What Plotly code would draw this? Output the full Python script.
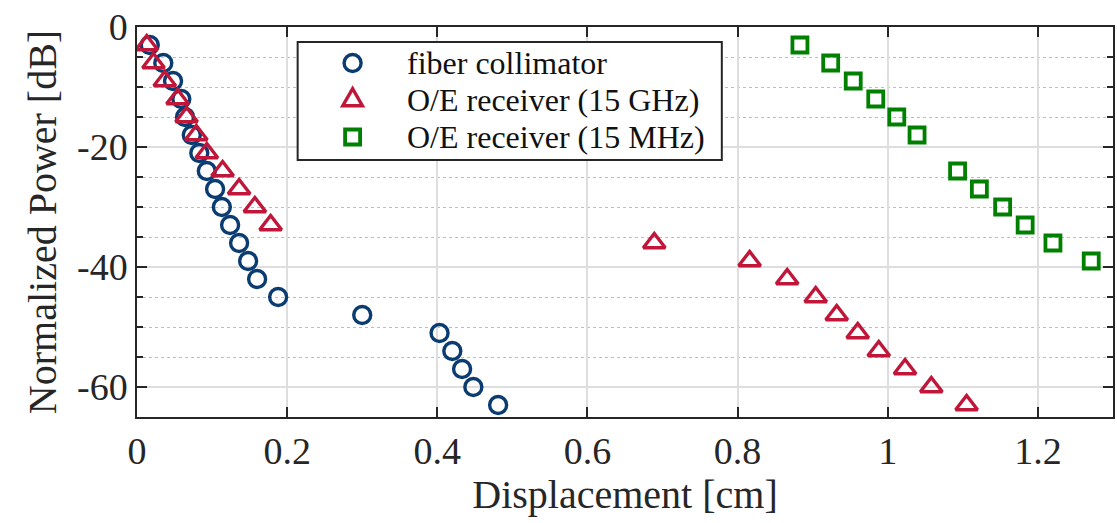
import plotly.graph_objects as go

# Normalized received power versus lateral displacement
fiber_x = [0.017, 0.035, 0.048, 0.059, 0.064, 0.073, 0.083, 0.093, 0.104, 0.113, 0.124,
           0.136, 0.148, 0.160, 0.188, 0.300, 0.403, 0.420, 0.433, 0.448, 0.481]
fiber_y = [-3, -6, -9, -12, -15, -18, -21, -24, -27, -30, -33,
           -36, -39, -42, -45, -48, -51, -54, -57, -60, -63]

ghz_x = [0.013, 0.022, 0.037, 0.054, 0.066, 0.079, 0.093, 0.114, 0.136, 0.157, 0.178,
         0.689, 0.816, 0.866, 0.904, 0.932, 0.960, 0.988, 1.023, 1.058, 1.105]
ghz_y = [-3, -6, -9, -12, -15, -18, -21, -24, -27, -30, -33,
         -36, -39, -42, -45, -48, -51, -54, -57, -60, -63]

mhz_x = [0.883, 0.924, 0.954, 0.984, 1.012, 1.039, 1.093, 1.122, 1.153, 1.183, 1.220, 1.271]
mhz_y = [-3, -6, -9, -12, -15, -18, -24, -27, -30, -33, -36, -39]

series_names = ["fiber collimator", "O/E receiver (15 GHz)", "O/E receiver (15 MHz)"]

x_ticks = [0, 0.2, 0.4, 0.6, 0.8, 1.0, 1.2]
x_tick_labels = ["0", "0.2", "0.4", "0.6", "0.8", "1", "1.2"]
y_ticks = [0, -20, -40, -60]
y_tick_labels = ["0", "-20", "-40", "-60"]

FONT = "Liberation Serif"
BLUE = "#0b3c71"
RED = "#c0163a"
GREEN = "#008000"
AXIS = "#262626"
LW = 3.4

fig = go.Figure()
fig.add_trace(go.Scatter(
    x=fiber_x, y=fiber_y, mode="markers", name=series_names[0], showlegend=False,
    marker=dict(symbol="circle-open", size=17, color=BLUE, line=dict(width=LW, color=BLUE)),
))
fig.add_trace(go.Scatter(
    x=ghz_x, y=ghz_y, mode="markers", name=series_names[1], showlegend=False,
    marker=dict(symbol="triangle-up-open", size=19, color=RED, line=dict(width=LW, color=RED)),
))
fig.add_trace(go.Scatter(
    x=mhz_x, y=mhz_y, mode="markers", name=series_names[2], showlegend=False,
    marker=dict(symbol="square-open", size=15, color=GREEN, line=dict(width=3.8, color=GREEN)),
))

# --- legend box drawn in plot-fraction coordinates ---
box = dict(x0=0.1646, x1=0.5992, y0=0.6590, y1=0.9615)
sym_x = 0.2209
text_x = 0.2751
row_y = [0.9077, 0.8128, 0.7179]

shapes = [dict(type="rect", xref="paper", yref="paper", layer="above",
               x0=box["x0"], x1=box["x1"], y0=box["y0"], y1=box["y1"],
               fillcolor="white", line=dict(color=AXIS, width=2))]
sym_common = dict(xref="paper", yref="paper", xsizemode="pixel", ysizemode="pixel",
                  xanchor=sym_x, layer="above")
shapes.append(dict(sym_common, type="circle", yanchor=row_y[0],
                   x0=-8.5, x1=8.5, y0=-8.5, y1=8.5, line=dict(color=BLUE, width=LW)))
shapes.append(dict(sym_common, type="path", yanchor=row_y[1],
                   path="M -9.8,-5.7 L 9.8,-5.7 L 0,11.3 Z", line=dict(color=RED, width=LW)))
shapes.append(dict(sym_common, type="rect", yanchor=row_y[2],
                   x0=-7.5, x1=7.5, y0=-7.5, y1=7.5, line=dict(color=GREEN, width=3.8)))

annotations = [dict(xref="paper", yref="paper", x=text_x, y=yy, text=name,
                    xanchor="left", yanchor="middle", showarrow=False,
                    font=dict(family=FONT, size=32, color="#111111"))
               for name, yy in zip(series_names, row_y)]

common_axis = dict(
    showline=True, linecolor=AXIS, linewidth=1.5, mirror="ticks",
    ticks="inside", ticklen=10, tickwidth=1.5, tickcolor=AXIS,
    showgrid=True, gridcolor="#dedede", gridwidth=1.5,
    zeroline=False,
    tickfont=dict(family=FONT, size=38, color=AXIS),
)

fig.update_layout(
    width=1117, height=523, autosize=False,
    margin=dict(l=137, r=2, t=27, b=106),
    plot_bgcolor="white", paper_bgcolor="white",
    font=dict(family=FONT, color=AXIS),
    xaxis=dict(
        common_axis, range=[0, 1.3], tickvals=x_ticks, ticktext=x_tick_labels,
        title=dict(text="Displacement [cm]", font=dict(family=FONT, size=40, color=AXIS), standoff=6),
    ),
    yaxis=dict(
        common_axis, range=[-65, 0], tickvals=y_ticks, ticktext=y_tick_labels,
        minor=dict(dtick=5, tick0=0, ticks="inside", ticklen=6, tickwidth=1.5, tickcolor=AXIS,
                   showgrid=True, gridcolor="#bdbdbd", griddash="dot", gridwidth=1.3),
        title=dict(text="Normalized Power [dB]", font=dict(family=FONT, size=40, color=AXIS), standoff=8),
    ),
    shapes=shapes,
    annotations=annotations,
    showlegend=False,
)

fig.write_html("out.html")
